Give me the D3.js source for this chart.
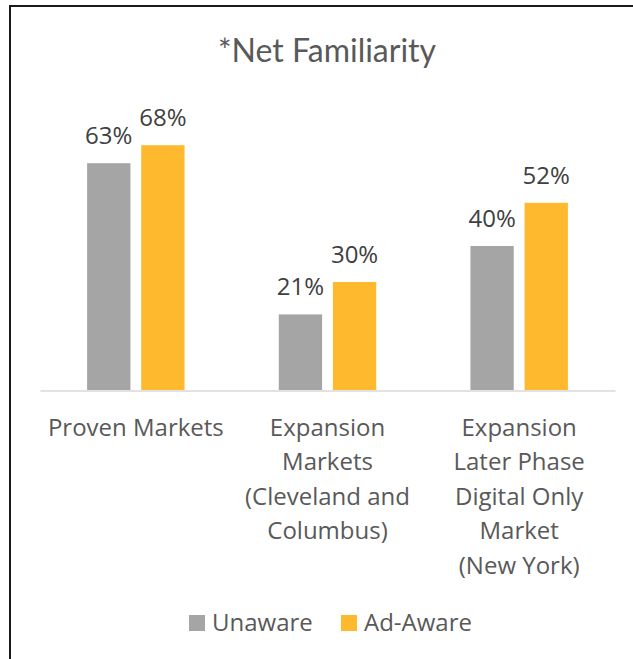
<!DOCTYPE html>
<html>
<head>
  <script src="https://d3js.org/d3.v7.min.js"></script>
  <style>
    body { margin: 0; background: #fff; }
    .title { font-family: Lato, sans-serif; font-size: 32px; fill: #595959; }
    .value { font-family: "Open Sans", sans-serif; font-size: 24px; fill: #404040; }
    .cat { font-family: "Open Sans", sans-serif; font-size: 24px; fill: #595959; }
    .legend text { font-family: "Open Sans", sans-serif; font-size: 24px; fill: #595959; }
  </style>
</head>
<body>
  <div id="chart"></div>
  <script>
    // data
    const categories = ["Proven Markets", "Expansion Markets", "Expansion Later Phase"];
    const categoryLines = [
      ["Proven Markets"],
      ["Expansion", "Markets", "(Cleveland and", "Columbus)"],
      ["Expansion", "Later Phase", "Digital Only", "Market", "(New York)"]
    ];
    const series = ["Unaware", "Ad-Aware"];
    const unaware = [0.63, 0.21, 0.40];
    const adAware = [0.68, 0.30, 0.52];
    const colors = ["#A5A5A5", "#FEB92E"];

    const W = 633, H = 659;
    const rows = categories.map((c, i) => ({ cat: c, values: [unaware[i], adAware[i]] }));

    const svg = d3.select("#chart").append("svg")
      .attr("width", W)
      .attr("height", H);

    // frame (runs past right and bottom edges)
    svg.append("rect")
      .attr("x", 10).attr("y", 6)
      .attr("width", W + 20).attr("height", H + 20)
      .attr("fill", "none")
      .attr("stroke", "#1a1a1a")
      .attr("stroke-width", 2);

    svg.append("text")
      .attr("class", "title")
      .attr("x", 327).attr("y", 62)
      .attr("text-anchor", "middle")
      .text("*Net Familiarity");

    const x0 = d3.scaleBand()
      .domain(categories)
      .range([40, 615]);

    const x1 = d3.scaleBand()
      .domain(series)
      .range([0, x0.bandwidth()])
      .paddingInner(0.2)
      .paddingOuter(0.87);

    const y = d3.scaleLinear()
      .domain([0, 0.8])
      .range([390, 102]);

    // bars
    const groups = svg.append("g")
      .selectAll("g")
      .data(rows)
      .join("g")
      .attr("transform", d => `translate(${x0(d.cat)},0)`);

    groups.selectAll("rect")
      .data(d => d.values.map((v, i) => ({ key: series[i], v, i })))
      .join("rect")
      .attr("x", d => x1(d.key))
      .attr("y", d => y(d.v))
      .attr("width", x1.bandwidth())
      .attr("height", d => y(0) - y(d.v))
      .attr("fill", d => colors[d.i]);

    groups.selectAll("text.value")
      .data(d => d.values.map((v, i) => ({ key: series[i], v })))
      .join("text")
      .attr("class", "value")
      .attr("x", d => x1(d.key) + x1.bandwidth() / 2)
      .attr("y", d => y(d.v) - 19)
      .attr("text-anchor", "middle")
      .text(d => d3.format(".0%")(d.v));

    // x axis
    const axis = svg.append("g")
      .attr("transform", `translate(0,${y(0) + 0.5})`)
      .call(d3.axisBottom(x0).tickSize(0).tickFormat(""));
    axis.attr("font-family", null).attr("font-size", null);
    axis.select(".domain").attr("stroke", "#D9D9D9").attr("stroke-width", 1.5);

    axis.selectAll(".tick text").remove();
    axis.selectAll(".tick").each(function(d, i) {
      const t = d3.select(this).append("text")
        .attr("class", "cat")
        .attr("text-anchor", "middle")
        .attr("fill", null);
      categoryLines[i].forEach((line, j) => {
        t.append("tspan")
          .attr("x", 0)
          .attr("y", 45 + j * 34.5)
          .text(line);
      });
    });

    // legend
    const legend = svg.append("g").attr("class", "legend");
    const legendX = [189, 341];
    series.forEach((s, i) => {
      legend.append("rect")
        .attr("x", legendX[i]).attr("y", 615)
        .attr("width", 16).attr("height", 16)
        .attr("fill", colors[i]);
      legend.append("text")
        .attr("x", legendX[i] + 23).attr("y", 631)
        .text(s);
    });
  </script>
</body>
</html>
